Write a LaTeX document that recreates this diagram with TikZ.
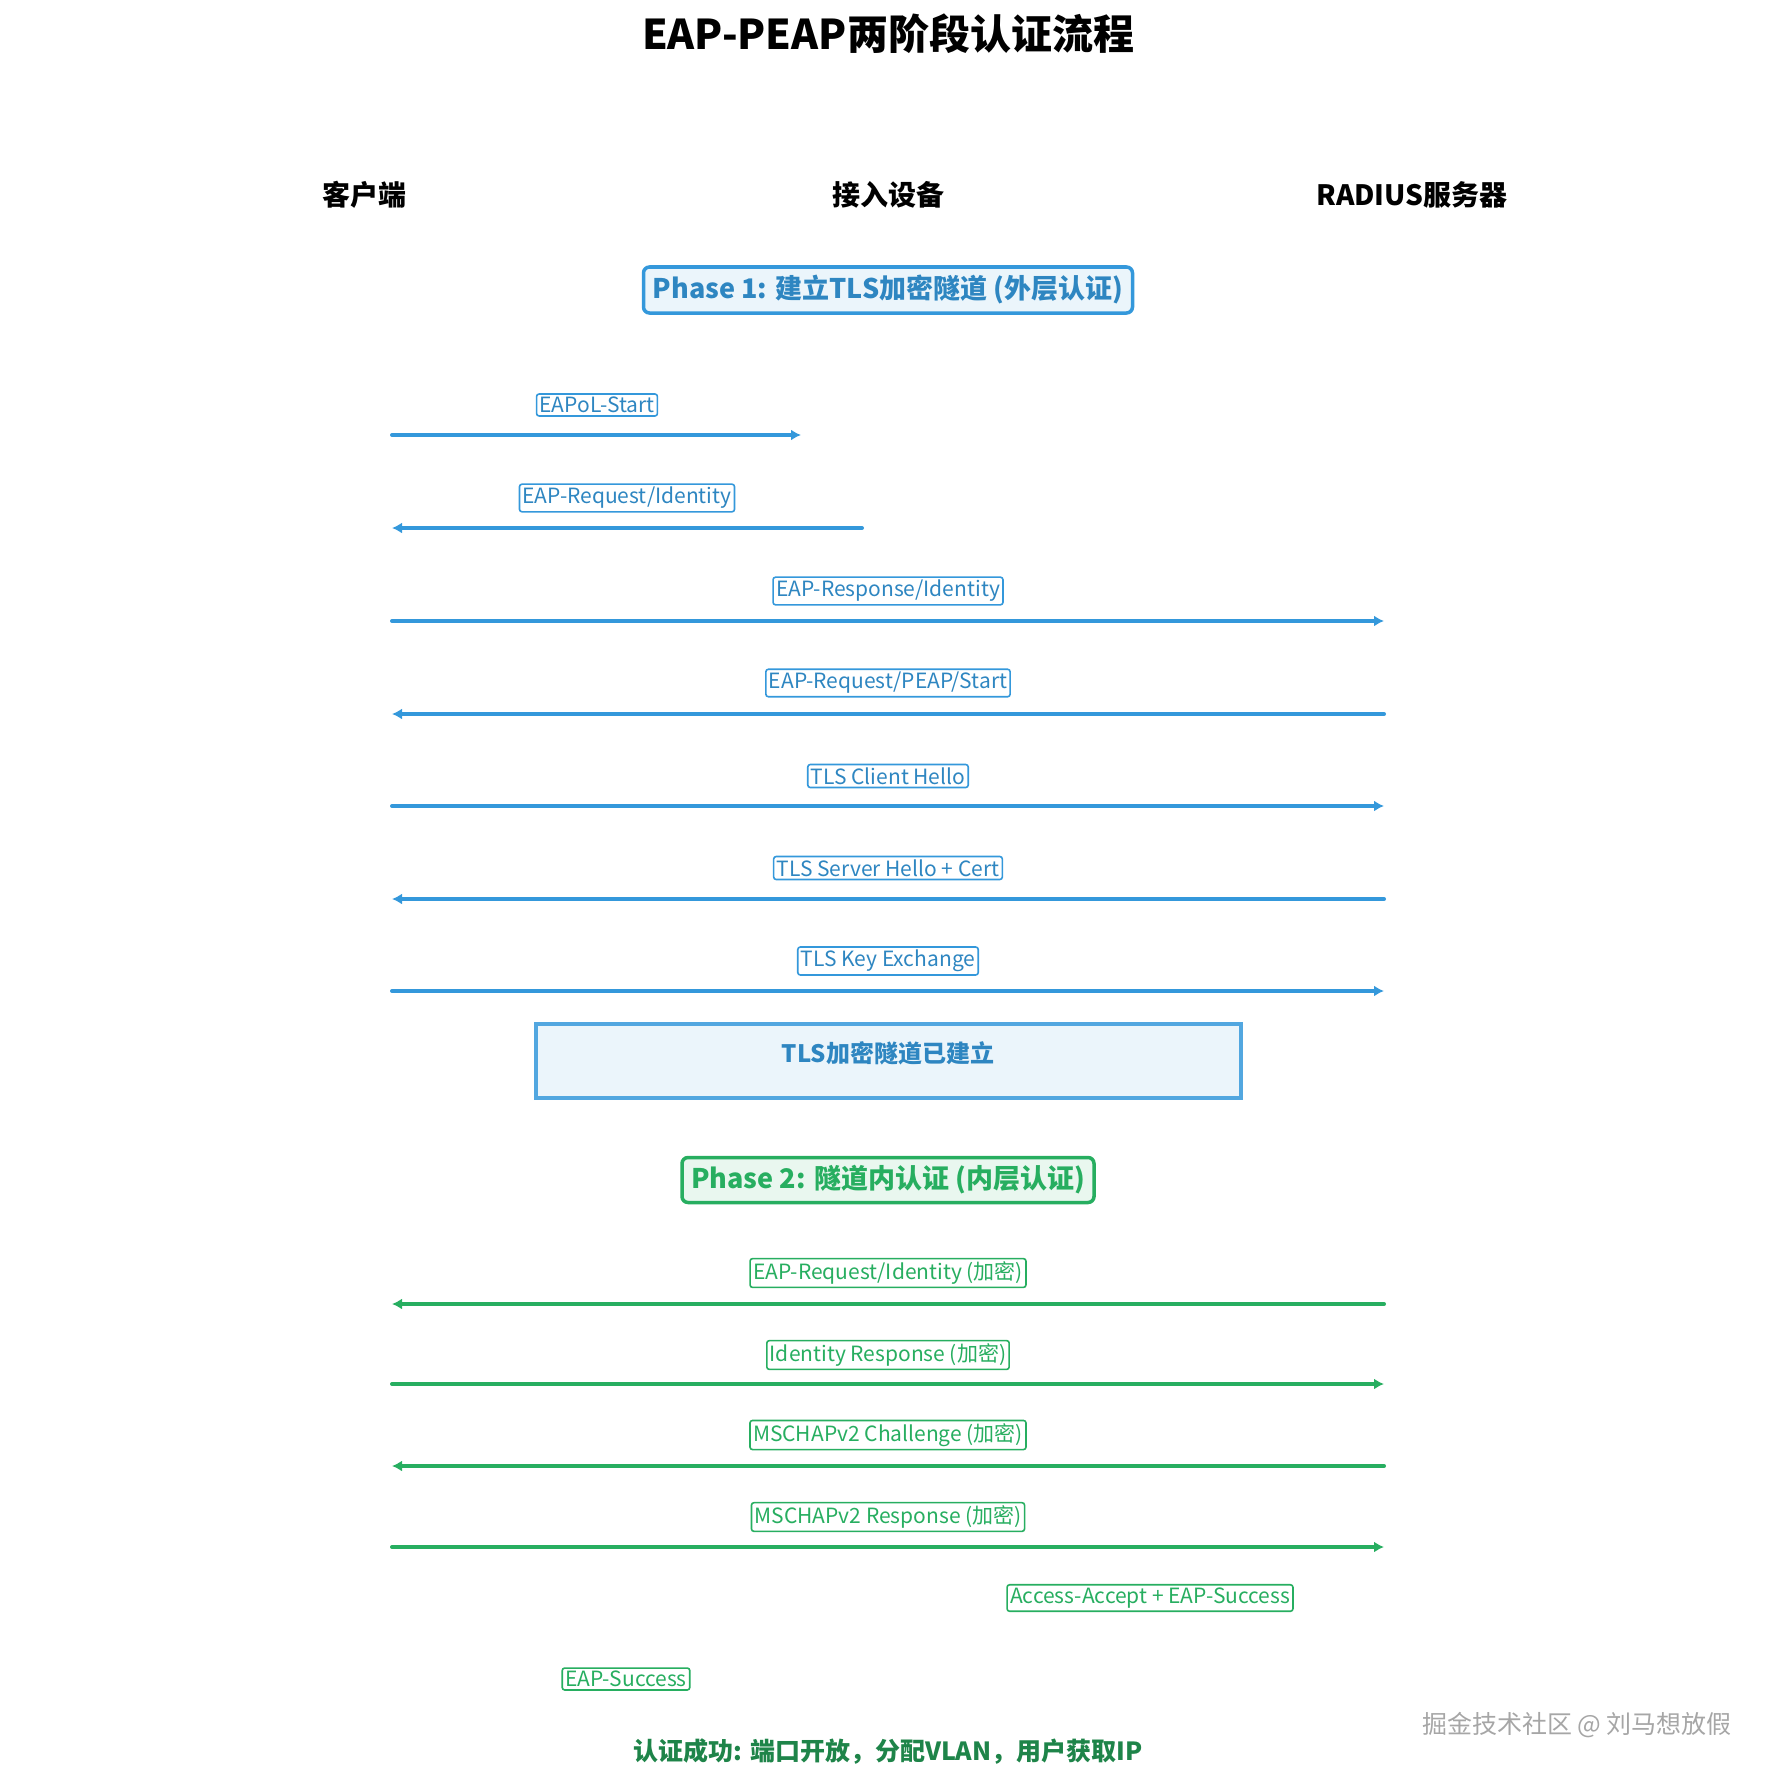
\documentclass[tikz,border=0pt]{standalone}
\usepackage{fontspec}
\setmainfont{Noto Sans CJK SC}
\usetikzlibrary{arrows.meta}
\definecolor{bl}{HTML}{3498DB}
\definecolor{blt}{HTML}{2E86C1}
\definecolor{gr}{HTML}{27AE60}
\definecolor{grt}{HTML}{1E8449}
\begin{document}
\begin{tikzpicture}[x=1pt,y=-1pt,
 lab/.style={draw,rounded corners=2.5pt,line width=1.6pt,inner sep=3pt,font=\fontsize{21}{24}\selectfont},
 bluelab/.style={lab,draw=bl,text=blt,fill=white},
 greenlab/.style={lab,draw=gr,text=gr,fill=white},
 bmsg/.style={draw=bl,line width=4pt,line cap=round,-{Latex[length=10pt,width=11pt]}},
 gmsg/.style={draw=gr,line width=4pt,line cap=round,-{Latex[length=10pt,width=11pt]}},
 hdr/.style={font=\fontsize{28}{32}\selectfont\bfseries}]
\useasboundingbox (0,0) rectangle (1773,1779);
\node[font=\fontsize{41}{46}\selectfont\bfseries] (title) at (888,34) {EAP-PEAP两阶段认证流程};
\node[hdr] (hc) at (364,195) {客户端};
\node[hdr] (hd) at (888,195) {接入设备};
\node[hdr] (hs) at (1412,195) {RADIUS服务器};
\node[draw=bl,line width=3.5pt,fill=bl!10,rounded corners=6pt,text=blt,minimum width=489pt,minimum height=46pt,font=\fontsize{27}{30}\selectfont\bfseries] (p1) at (888,290) {Phase 1: 建立TLS加密隧道 (外层认证)};
\foreach \n/\y in {a/435,b/528,c/621,d/714,e/806,f/899,g/991,h/1304,i/1384,j/1466,k/1547}{
 \coordinate (L\n) at (392,\y);
 \coordinate (R\n) at (1384,\y);
}
\coordinate (Da) at (801,435);
\coordinate (Db) at (862,528);
\draw[bmsg] (La) -- (Da);
\node[bluelab] (ta) at (597,405) {EAPoL-Start};
\draw[bmsg] (Db) -- (Lb);
\node[bluelab] (tb) at (627,498) {EAP-Request/Identity};
\draw[bmsg] (Lc) -- (Rc);
\node[bluelab] (tc) at (888,591) {EAP-Response/Identity};
\draw[bmsg] (Rd) -- (Ld);
\node[bluelab] (td) at (888,683) {EAP-Request/PEAP/Start};
\draw[bmsg] (Le) -- (Re);
\node[bluelab] (te) at (888,776) {TLS Client Hello};
\draw[bmsg] (Rf) -- (Lf);
\node[bluelab] (tf) at (888,868) {TLS Server Hello + Cert};
\draw[bmsg] (Lg) -- (Rg);
\node[bluelab] (tg) at (888,961) {TLS Key Exchange};
\draw[draw=bl!85,line width=3.5pt,fill=bl!10] (536,1024) rectangle (1241,1098);
\node[text=blt,font=\fontsize{24}{28}\selectfont\bfseries] (tun) at (888,1053) {TLS加密隧道已建立};
\node[draw=gr,line width=3.5pt,fill=gr!10,rounded corners=6pt,text=gr,minimum width=412pt,minimum height=45pt,font=\fontsize{27}{30}\selectfont\bfseries] (p2) at (888,1180) {Phase 2: 隧道内认证 (内层认证)};
\draw[gmsg] (Rh) -- (Lh);
\node[greenlab] (th) at (888,1273) {EAP-Request/Identity (加密)};
\draw[gmsg] (Li) -- (Ri);
\node[greenlab] (ti) at (888,1355) {Identity Response (加密)};
\draw[gmsg] (Rj) -- (Lj);
\node[greenlab] (tj) at (888,1435) {MSCHAPv2 Challenge (加密)};
\draw[gmsg] (Lk) -- (Rk);
\node[greenlab] (tk) at (888,1517) {MSCHAPv2 Response (加密)};
\node[greenlab] (tl) at (1150,1598) {Access-Accept + EAP-Success};
\node[greenlab] (tm) at (626,1679) {EAP-Success};
\node[text=grt,font=\fontsize{25}{28}\selectfont\bfseries] (ok) at (888,1752) {认证成功: 端口开放，分配VLAN，用户获取IP};
\node[text=gray!70,font=\fontsize{25}{28}\selectfont] (wm) at (1577,1725) {掘金技术社区 @ 刘马想放假};
\end{tikzpicture}
\end{document}
